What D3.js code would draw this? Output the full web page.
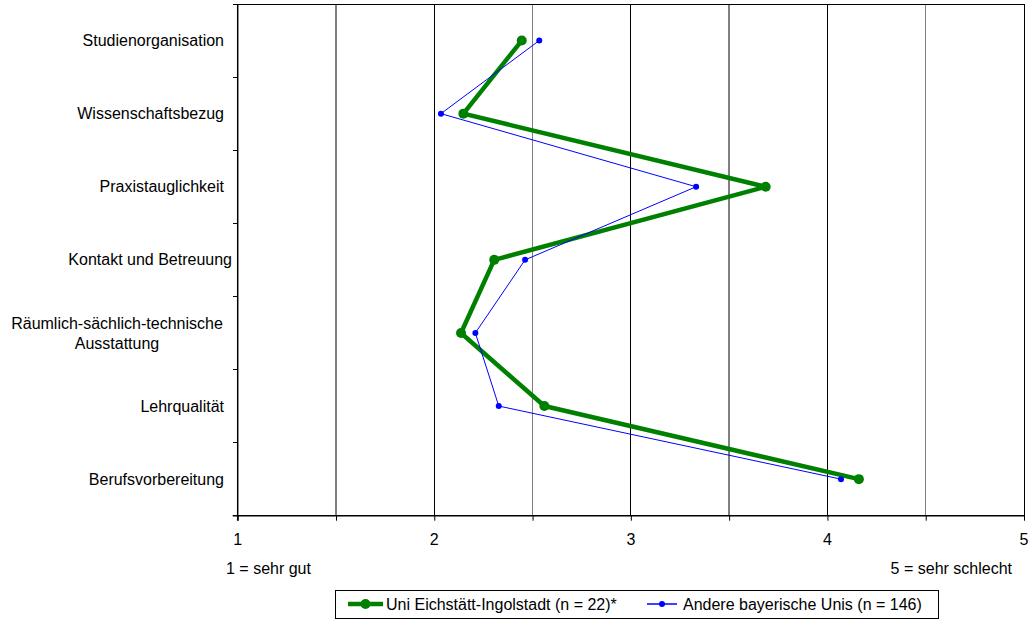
<!DOCTYPE html>
<html><head><meta charset="utf-8">
<script src="https://cdn.jsdelivr.net/npm/d3@7"></script>
<style>body{margin:0;background:#fff;}svg{display:block;font-family:"Liberation Sans",Arial,sans-serif;}</style>
</head><body><svg id="c" width="1033" height="620"></svg>
<script>
const categories = ["Studienorganisation","Wissenschaftsbezug","Praxistauglichkeit","Kontakt und Betreuung","Räumlich-sächlich-technische Ausstattung","Lehrqualität","Berufsvorbereitung"];
const categoryLines = [["Studienorganisation"],["Wissenschaftsbezug"],["Praxistauglichkeit"],["Kontakt und Betreuung"],["Räumlich-sächlich-technische","Ausstattung"],["Lehrqualität"],["Berufsvorbereitung"]];
const seriesNames = ["Uni Eichstätt-Ingolstadt (n = 22)*","Andere bayerische Unis (n = 146)"];
const uniEI = [2.445, 2.148, 3.686, 2.305, 2.136, 2.56, 4.16];
const andere = [2.534, 2.034, 3.332, 2.462, 2.209, 2.328, 4.069];
const xTicks = [1,2,3,4,5];
const gridValues = [1.5,2,2.5,3,3.5,4,4.5,5];
const minorTicks = [1,1.5,2,2.5,3,3.5,4,4.5,5];
const scaleLabels = ["1 = sehr gut","5 = sehr schlecht"];

const FS = 16;
const svg = d3.select("#c");
const L=237.7, R=1024, T=4, B=515.7;
const x = d3.scaleLinear().domain([1,5]).range([L,R]);
const y = d3.scaleBand().domain(categories).range([T,B]).padding(0);
const yc = c => y(c)+y.bandwidth()/2;

// gridlines
svg.append("g").selectAll("line").data(gridValues).join("line")
  .attr("x1",d=>x(d)).attr("x2",d=>x(d)).attr("y1",T).attr("y2",B)
  .attr("stroke",d=>Number.isInteger(d)?"#000":"#808080")
  .attr("stroke-width",d=>Number.isInteger(d)?1:1.5)
  .attr("shape-rendering","crispEdges");
svg.append("line").attr("x1",L).attr("x2",R).attr("y1",T).attr("y2",T).attr("stroke","#000").attr("shape-rendering","crispEdges");

// y axis
const yAxisG = svg.append("g").attr("transform",`translate(${L},0)`);
yAxisG.append("line").attr("x1",0).attr("x2",0).attr("y1",T).attr("y2",B+5).attr("stroke","#000").attr("stroke-width",1.5);
const boundaries = categories.map(c=>y(c)).concat([B]);
yAxisG.selectAll("line.t").data(boundaries).join("line").attr("class","t")
  .attr("x1",-5).attr("x2",0).attr("y1",d=>d).attr("y2",d=>d).attr("stroke","#000").attr("shape-rendering","crispEdges");

// y labels
const labG = svg.append("g").attr("font-size",FS).attr("fill","#000");
categories.forEach((c,i)=>{
  const lines = categoryLines[i];
  if(lines.length===1){
    const t = labG.append("text").attr("y",yc(c)).attr("dy","0.35em").attr("text-anchor","end").text(lines[0]);
    const w = t.node().getComputedTextLength();
    // long labels overflow slightly to the right as in the reference
    t.attr("x", w>160 ? 232 : 224);
  } else {
    lines.forEach((ln,j)=>{
      labG.append("text").attr("x",117).attr("y",yc(c)+(j-(lines.length-1)/2)*20).attr("dy","0.35em").attr("text-anchor","middle").text(ln);
    });
  }
});

// x axis
const xAxis = d3.axisBottom(x).tickValues(minorTicks).tickSize(5).tickFormat("");
const xg = svg.append("g").attr("transform",`translate(0,${B})`).call(xAxis);
xg.select(".domain").attr("stroke","#000").attr("stroke-width",1.5).attr("d",`M${L-5},0H${R}`);
xg.selectAll(".tick line").attr("stroke","#000");
svg.append("g").selectAll("text").data(xTicks).join("text")
  .attr("x",d=>x(d)).attr("y",539).attr("dy","0.35em").attr("text-anchor","middle").attr("font-size",FS).text(d=>d);
svg.append("text").attr("x",226).attr("y",568).attr("dy","0.35em").attr("font-size",FS).text(scaleLabels[0]);
svg.append("text").attr("x",1012).attr("y",568).attr("dy","0.35em").attr("text-anchor","end").attr("font-size",FS).text(scaleLabels[1]);

// series
const line = d3.line().x(d=>x(d.v)).y(d=>yc(d.c));
const dGreen = categories.map((c,i)=>({c,v:uniEI[i]}));
const dBlue = categories.map((c,i)=>({c,v:andere[i]}));
svg.append("path").datum(dGreen).attr("d",line).attr("fill","none").attr("stroke","#008000").attr("stroke-width",4.5).attr("stroke-linejoin","round");
svg.append("g").selectAll("circle").data(dGreen).join("circle").attr("cx",d=>x(d.v)).attr("cy",d=>yc(d.c)).attr("r",5).attr("fill","#008000");
svg.append("path").datum(dBlue).attr("d",line).attr("fill","none").attr("stroke","#0000ff").attr("stroke-width",1);
svg.append("g").selectAll("circle").data(dBlue).join("circle").attr("cx",d=>x(d.v)).attr("cy",d=>yc(d.c)).attr("r",3).attr("fill","#0000ff");

// legend
const lg = svg.append("g");
lg.append("rect").attr("x",335.5).attr("y",590.5).attr("width",603).attr("height",28).attr("fill","#fff").attr("stroke","#000");
lg.append("line").attr("x1",348).attr("x2",383).attr("y1",604).attr("y2",604).attr("stroke","#008000").attr("stroke-width",4.5);
lg.append("circle").attr("cx",365.5).attr("cy",604).attr("r",5).attr("fill","#008000");
lg.append("text").attr("x",386).attr("y",604).attr("dy","0.35em").attr("font-size",FS).text(seriesNames[0]);
lg.append("line").attr("x1",647).attr("x2",677).attr("y1",604).attr("y2",604).attr("stroke","#0000ff").attr("stroke-width",1.5);
lg.append("circle").attr("cx",662).attr("cy",604).attr("r",3).attr("fill","#0000ff");
lg.append("text").attr("x",683).attr("y",604).attr("dy","0.35em").attr("font-size",FS).text(seriesNames[1]);
</script></body></html>
